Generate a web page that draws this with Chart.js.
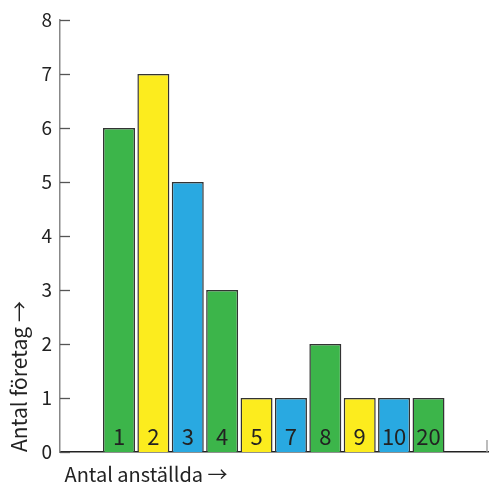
<!DOCTYPE html>
<html><head><meta charset="utf-8">
<script src="https://cdn.jsdelivr.net/npm/chart.js@4"></script>
<style>html,body{margin:0;padding:0;background:#fff}#w{width:490px;height:484px}</style>
</head><body><div id="w"><canvas id="c"></canvas></div>
<script>
const categories = ['1','2','3','4','5','7','8','9','10','20'];
const companies = [6,7,5,3,1,1,2,1,1,1];
const yTicks = [0,1,2,3,4,5,6,7,8];
const GREEN='#3cb54a', YELLOW='#fcec1e', BLUE='#29a9e1';
const barColors = [GREEN,YELLOW,BLUE,GREEN,YELLOW,BLUE,GREEN,YELLOW,BLUE,GREEN];
const FONT = "'Noto Sans CJK SC', 'Open Sans', sans-serif";

const deco = {
  id:'deco',
  afterDatasetsDraw(chart){
    const ctx=chart.ctx, y=chart.scales.y, x=chart.scales.x;
    ctx.save();
    ctx.strokeStyle='#555'; ctx.lineWidth=1.3;
    yTicks.forEach(v=>{
      const py=Math.round(y.getPixelForValue(v))+0.5;
      ctx.beginPath(); ctx.moveTo(x.left,py); ctx.lineTo(x.left+10,py); ctx.stroke();
    });
    ctx.strokeStyle='#999';
    ctx.beginPath(); ctx.moveTo(x.right-1,y.bottom); ctx.lineTo(x.right-1,y.bottom-12); ctx.stroke();
    const meta=chart.getDatasetMeta(0);
    ctx.fillStyle='#222'; ctx.font='22px '+FONT; ctx.textAlign='center'; ctx.textBaseline='alphabetic';
    meta.data.forEach((b,i)=>{ ctx.fillText(categories[i], b.x, y.bottom-7); });
    ctx.restore();
  }
};

new Chart(document.getElementById('c'),{
  type:'bar',
  data:{datasets:[{
    data: companies.map((v,i)=>({x:i+1,y:v})),
    backgroundColor: barColors,
    borderColor:'#333', borderWidth:1.5,
    barPercentage:0.93, categoryPercentage:1
  }]},
  options:{
    responsive:true, maintainAspectRatio:false, animation:false,
    layout:{padding:{top:20,right:2,left:0,bottom:0}},
    plugins:{legend:{display:false},tooltip:{enabled:false}},
    scales:{
      x:{type:'linear', min:-0.715, max:11.73, offset:false,
        grid:{display:false, drawTicks:false, offset:false},
        border:{display:true,color:'#222',width:1.5},
        ticks:{display:false},
        title:{display:true,text:' Antal anställda →',align:'start',color:'#222',font:{family:FONT,size:20,lineHeight:1},padding:{top:0,bottom:0}},
        afterFit(s){s.height=32;}
      },
      y:{min:0,max:8,
        afterBuildTicks(s){s.ticks=yTicks.map(v=>({value:v}));},
        grid:{display:false, drawTicks:false},
        border:{display:true,color:'#888',width:1.5},
        ticks:{color:'#222',padding:8,font:{family:FONT,size:19}},
        title:{display:true,text:'Antal företag →',align:'start',color:'#222',font:{family:FONT,size:21},padding:{top:6,bottom:0}},
        afterFit(s){s.width=60;}
      }
    }
  },
  plugins:[deco]
});
</script></body></html>
